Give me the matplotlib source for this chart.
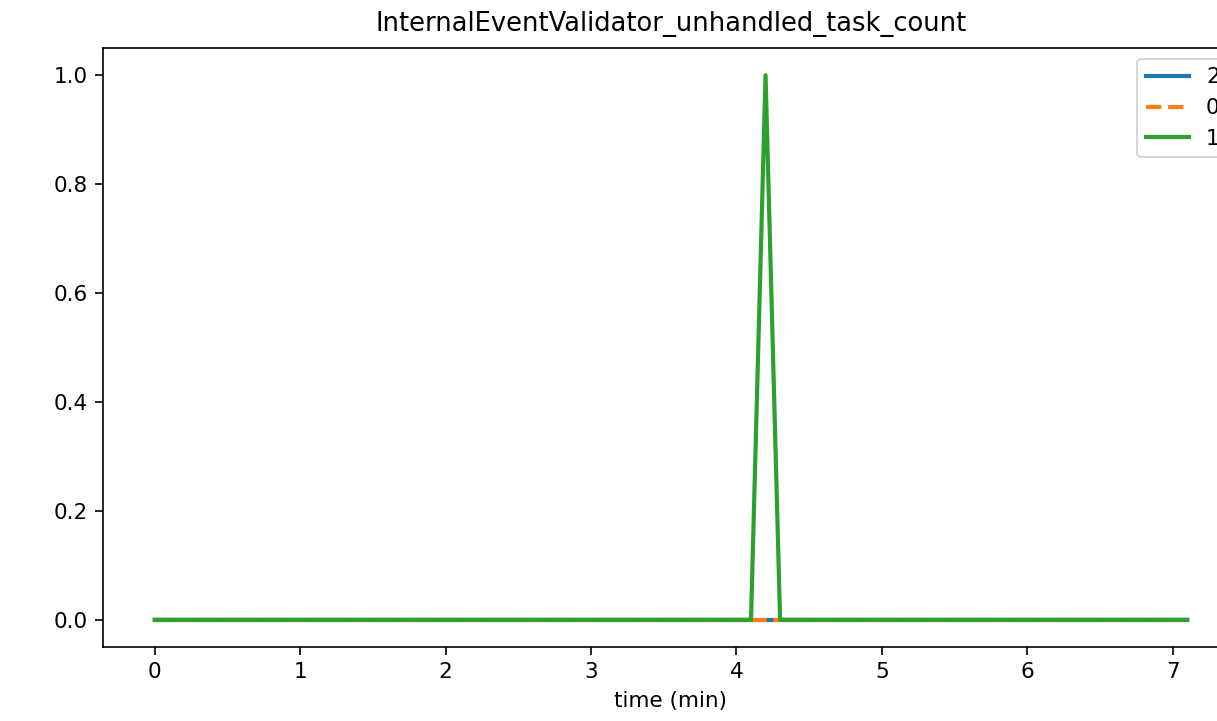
import numpy as np
import matplotlib
matplotlib.use('Agg')
import matplotlib.pyplot as plt

# --- data ---
TITLE = "InternalEventValidator_unhandled_task_count"
time_min = [round(0.1 * i, 1) for i in range(72)]   # sample times, 0.0 .. 7.1 min
node_labels = ['2', '0', '1']
count_2 = [0] * 72
count_0 = [0] * 72
count_1 = [0, 0, 0, 0, 0, 0, 0, 0, 0, 0,
           0, 0, 0, 0, 0, 0, 0, 0, 0, 0,
           0, 0, 0, 0, 0, 0, 0, 0, 0, 0,
           0, 0, 0, 0, 0, 0, 0, 0, 0, 0,
           0, 0, 1, 0, 0, 0, 0, 0, 0, 0,
           0, 0, 0, 0, 0, 0, 0, 0, 0, 0,
           0, 0, 0, 0, 0, 0, 0, 0, 0, 0,
           0, 0]

plt.rcParams['font.size'] = 10.3
plt.rcParams['xtick.major.size'] = 3.9
plt.rcParams['ytick.major.size'] = 3.9

fig = plt.figure(figsize=(1217 / 150, 721 / 150), dpi=150)
# axes runs a bit past the right edge, like the original crop
ax = fig.add_axes([103 / 1217, 74 / 721, 1136 / 1217, 599 / 721])

ax.plot(time_min, count_2, label=node_labels[0], color='#1f77b4', lw=2)
ax.plot(time_min, count_0, label=node_labels[1], color='#ff7f0e', lw=2, ls='--')
ax.plot(time_min, count_1, label=node_labels[2], color='#2ca02c', lw=2)

ax.set_title(TITLE, pad=8)
ax.set_xlabel("time (min)")
ax.legend(loc='upper right')

fig.savefig('out.png', dpi=150)
